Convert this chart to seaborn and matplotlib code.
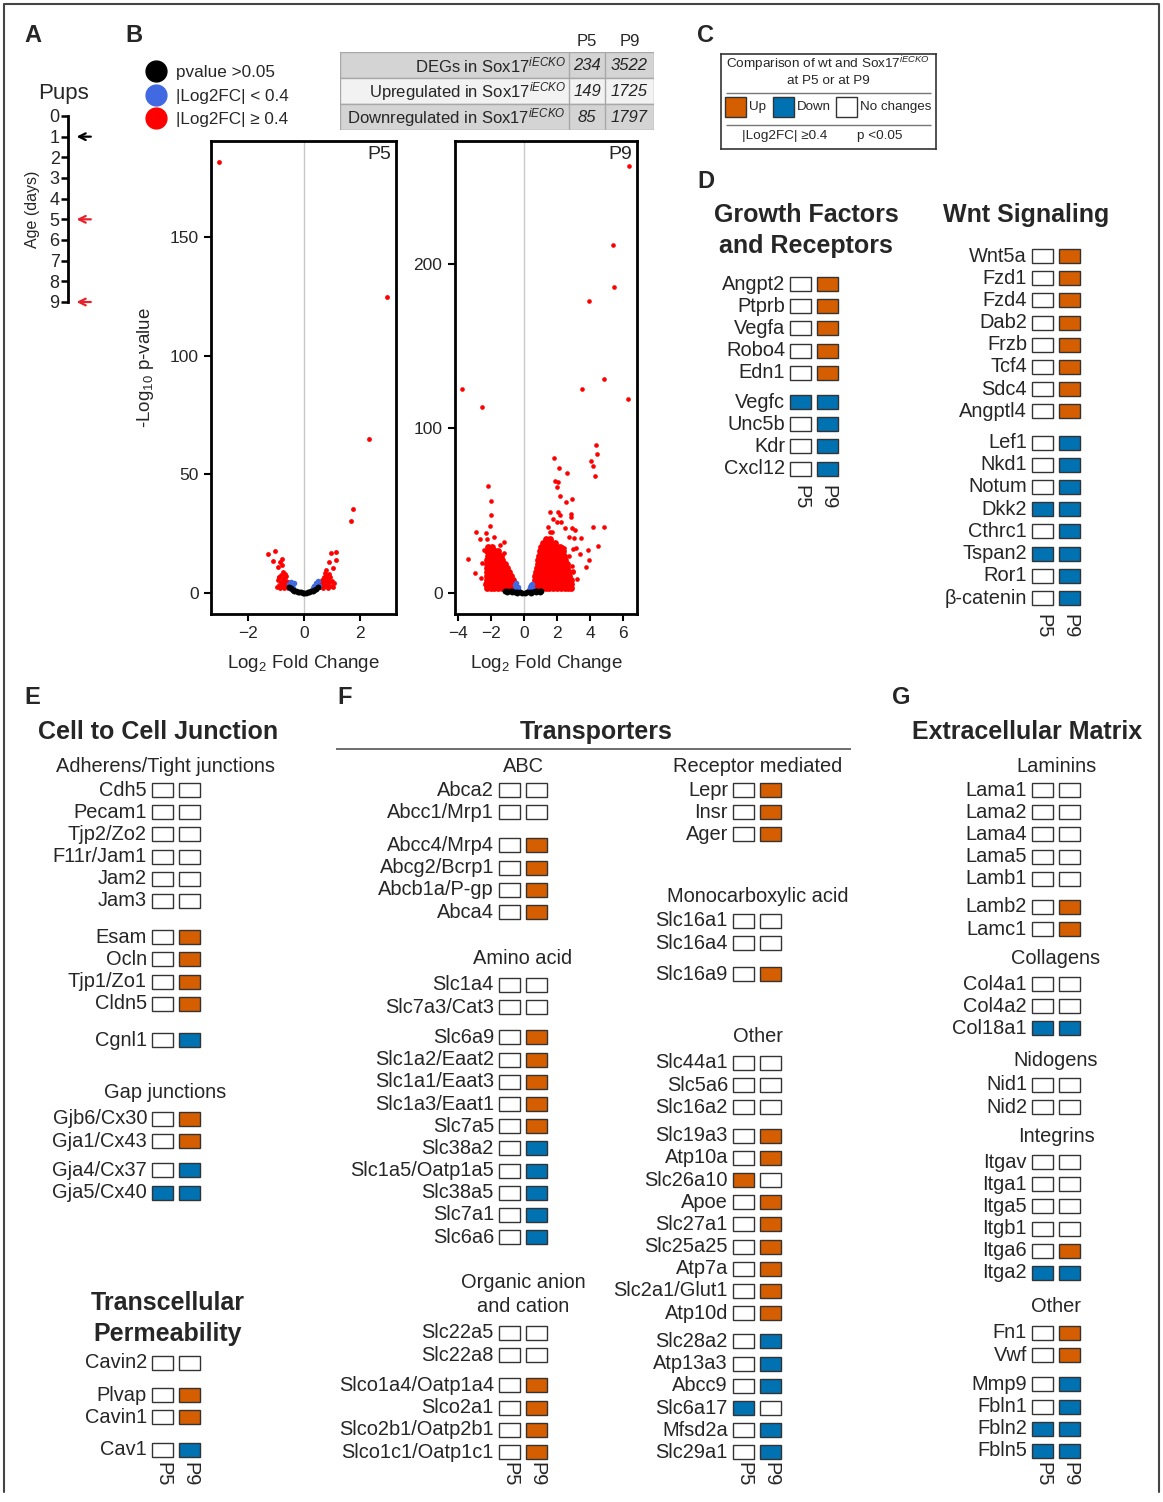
import numpy as np
import pandas as pd
import matplotlib
matplotlib.use("Agg")
import matplotlib.pyplot as plt
import seaborn as sns
from matplotlib.lines import Line2D

sns.set_theme(style="ticks")
plt.rcParams["font.family"] = ["Liberation Sans", "DejaVu Sans"]
plt.rcParams["mathtext.fontset"] = "custom"
plt.rcParams["mathtext.rm"] = "Liberation Sans"
plt.rcParams["mathtext.it"] = "Liberation Sans:italic"
plt.rcParams["mathtext.bf"] = "Liberation Sans:bold"

# ---------------- data ----------------
# panel A
pups_days = list(range(10))
arrow_days = [1, 5, 9]
arrow_colors = ["black", "#e8202a", "#e8202a"]

# panel B table
deg_rows = ["DEGs in Sox17$^{iECKO}$", "Upregulated in Sox17$^{iECKO}$",
            "Downregulated in Sox17$^{iECKO}$"]
deg_p5 = [234, 149, 85]
deg_p9 = [3522, 1725, 1797]

# volcano P5 (log2FC, -log10 p)
p5_red = [(-3.02, 181.5), (2.99, 124.5), (2.33, 64.7), (1.76, 35.2), (1.70, 30.2),
          (-1.27, 16.1), (-1.04, 17.4), (-1.11, 13.2), (-0.86, 12.9), (-0.78, 14.2),
          (-0.92, 10.7), (-0.78, 11.8), (-0.89, 6.5), (-0.67, 7.9),
          (0.99, 16.7), (1.16, 17.2), (1.14, 13.9), (0.92, 12.9), (1.05, 10.2),
          (0.80, 9.5), (0.72, 6.7),
          (-0.93, 5.2), (-0.90, 3.1), (-0.88, 6.8), (-0.85, 2.0), (-0.83, 4.4),
          (-0.80, 7.5), (-0.78, 3.0), (-0.75, 5.6), (-0.72, 1.8), (-0.70, 4.0),
          (-0.68, 6.4), (-0.66, 2.6), (-0.63, 5.0), (-0.61, 3.4), (-0.58, 1.9),
          (-0.56, 4.3), (-0.96, 2.5), (-0.74, 8.6), (-0.64, 7.2),
          (0.58, 2.2), (0.60, 4.1), (0.63, 3.0), (0.66, 5.4), (0.68, 1.8),
          (0.70, 3.9), (0.73, 6.3), (0.75, 2.6), (0.78, 4.8), (0.80, 7.2),
          (0.83, 3.3), (0.86, 5.7), (0.88, 2.1), (0.91, 4.5), (0.94, 6.6),
          (0.97, 3.0), (1.00, 5.1), (1.04, 2.4), (1.08, 4.0), (0.76, 8.4), (0.90, 8.0)]
p5_blue = [(-0.52, 3.6), (-0.49, 2.4), (-0.46, 4.6), (-0.44, 1.6), (-0.41, 3.0),
           (-0.38, 2.0), (-0.36, 4.0), (0.33, 1.8), (0.36, 3.0), (0.40, 2.2),
           (0.43, 4.2), (0.46, 3.2), (0.50, 5.0), (0.53, 2.6)]
p5_black = [(-0.52, 2.4), (-0.46, 1.8), (-0.40, 1.3), (-0.34, 0.9), (-0.28, 0.6),
            (-0.22, 0.35), (-0.16, 0.2), (-0.10, 0.08), (-0.04, 0.02), (0.02, 0.0),
            (0.08, 0.05), (0.14, 0.15), (0.20, 0.3), (0.26, 0.5), (0.32, 0.8),
            (0.38, 1.2), (0.44, 1.7), (0.50, 2.3)]

# volcano P9
p9_red_sparse = [(-3.73, 123.7), (-2.54, 113.0), (-2.16, 65.0), (-2.00, 55.5), (-2.02, 47.3),
                 (-2.06, 40.6), (-2.93, 36.8), (-3.37, 20.7), (-2.97, 11.7), (-2.67, 32.7),
                 (-2.32, 36.2), (-2.22, 32.5), (-1.84, 34.0), (-1.19, 30.9), (-2.56, 18.2),
                 (-1.20, 24.0), (-2.45, 26.0), (-2.60, 9.0), (-1.45, 29.0),
                 (6.35, 259.6), (5.40, 211.0), (5.47, 185.7), (3.95, 177.0), (4.87, 129.7),
                 (3.49, 123.7), (6.33, 117.7), (4.36, 89.6), (4.42, 84.0), (4.08, 80.0),
                 (4.18, 77.0), (4.28, 70.6), (1.84, 82.0), (2.14, 75.6), (2.63, 73.0),
                 (1.90, 67.7), (2.08, 67.0), (2.00, 64.0), (2.16, 59.0), (2.53, 55.3),
                 (2.93, 57.0), (1.60, 49.0), (2.05, 49.0), (2.20, 47.0), (2.83, 48.0),
                 (2.83, 46.0), (1.47, 40.0), (1.73, 44.6), (2.00, 43.0), (2.25, 43.0),
                 (2.46, 39.0), (1.58, 37.0), (1.70, 37.0), (2.90, 39.0), (3.10, 38.0),
                 (2.70, 34.0), (3.05, 33.0), (3.47, 33.0), (3.16, 27.0), (3.40, 23.6),
                 (2.95, 26.5), (2.30, 28.0), (2.40, 27.0), (3.76, 15.7), (3.93, 20.0),
                 (3.90, 26.0), (4.20, 40.0), (4.85, 40.0), (4.50, 28.5), (2.95, 13.0),
                 (3.00, 12.5), (2.90, 16.0), (3.20, 8.0), (2.75, 22.0)]
# dense lobes, read row by row: (-log10 p, [log2FC ...])
p9_left_rows = [(2.5, [-2.25, -2.02, -1.80, -1.57, -1.35, -1.12, -0.90, -0.68]),
                (5.0, [-2.28, -2.05, -1.82, -1.60, -1.37, -1.15, -0.92, -0.70, -0.55]),
                (7.5, [-2.24, -2.01, -1.78, -1.55, -1.33, -1.10, -0.87, -0.68]),
                (10.0, [-2.27, -2.04, -1.81, -1.58, -1.36, -1.13, -0.90, -0.76]),
                (12.5, [-2.23, -2.00, -1.77, -1.54, -1.32, -1.09, -0.90]),
                (15.0, [-2.26, -2.03, -1.80, -1.57, -1.34, -1.12, -1.00]),
                (17.5, [-2.22, -1.99, -1.76, -1.53, -1.30, -1.12]),
                (20.0, [-2.25, -2.02, -1.79, -1.56, -1.33]),
                (22.5, [-2.21, -1.98, -1.75, -1.52, -1.38]),
                (25.0, [-2.24, -2.01, -1.78, -1.60]),
                (27.5, [-2.18, -1.95])]
p9_right_rows = [(2.5, [0.62, 0.85, 1.08, 1.31, 1.54, 1.77, 2.00, 2.23, 2.46, 2.69, 2.88]),
                 (5.0, [0.60, 0.83, 1.06, 1.29, 1.52, 1.75, 1.98, 2.21, 2.44, 2.67, 2.88]),
                 (7.5, [0.64, 0.87, 1.10, 1.33, 1.56, 1.79, 2.02, 2.25, 2.48, 2.71, 2.85]),
                 (10.0, [0.66, 0.89, 1.12, 1.35, 1.58, 1.81, 2.04, 2.27, 2.50, 2.73]),
                 (12.5, [0.72, 0.95, 1.18, 1.41, 1.64, 1.87, 2.10, 2.33, 2.56, 2.75]),
                 (15.0, [0.76, 0.99, 1.22, 1.45, 1.68, 1.91, 2.14, 2.37, 2.60]),
                 (17.5, [0.83, 1.06, 1.29, 1.52, 1.75, 1.98, 2.21, 2.44, 2.62]),
                 (20.0, [0.88, 1.11, 1.34, 1.57, 1.80, 2.03, 2.26, 2.49]),
                 (22.5, [0.93, 1.16, 1.39, 1.62, 1.85, 2.08, 2.31, 2.45]),
                 (25.0, [0.98, 1.21, 1.44, 1.67, 1.90, 2.13, 2.34]),
                 (27.5, [1.06, 1.29, 1.52, 1.75, 1.98, 2.20]),
                 (30.0, [1.17, 1.40, 1.63, 1.86]),
                 (32.5, [1.35, 1.58])]
p9_blue = [(-0.55, 4.5), (-0.50, 2.8), (-0.46, 5.6), (-0.42, 1.8), (-0.38, 3.6),
           (-0.34, 2.2), (0.30, 1.8), (0.34, 3.2), (0.38, 2.2), (0.42, 4.4),
           (0.46, 3.0), (0.50, 5.4), (0.54, 2.4)]
p9_black = [(-1.15, 1.2), (-1.00, 1.0), (-0.85, 0.9), (-0.70, 0.7), (-0.55, 0.5),
            (-0.40, 0.35), (-0.25, 0.2), (-0.10, 0.05), (0.05, 0.0), (0.20, 0.1),
            (0.35, 0.3), (0.50, 0.5), (0.65, 0.7), (0.80, 0.9), (0.95, 1.0), (1.05, 1.2),
            (-1.05, 0.2), (-0.75, 0.1), (-0.45, 0.0), (0.45, 0.0), (0.75, 0.1), (0.98, 0.2)]

# legend C
key_labels = ["Up", "Down", "No changes"]
key_states = ["U", "D", "N"]

# panel D
gf_genes = ["Angpt2", "Ptprb", "Vegfa", "Robo4", "Edn1", "Vegfc", "Unc5b", "Kdr", "Cxcl12"]
gf_p5 = "NNNNNDNNN"
gf_p9 = "UUUUUDDDD"
wnt_genes = ["Wnt5a", "Fzd1", "Fzd4", "Dab2", "Frzb", "Tcf4", "Sdc4", "Angptl4",
             "Lef1", "Nkd1", "Notum", "Dkk2", "Cthrc1", "Tspan2", "Ror1", "β-catenin"]
wnt_p5 = "NNNNNNNNNNNDNDNN"
wnt_p9 = "UUUUUUUUDDDDDDDD"

# panel E
adh_genes = ["Cdh5", "Pecam1", "Tjp2/Zo2", "F11r/Jam1", "Jam2", "Jam3",
             "Esam", "Ocln", "Tjp1/Zo1", "Cldn5", "Cgnl1"]
adh_p5 = "NNNNNNNNNNN"
adh_p9 = "NNNNNNUUUUD"
gapj_genes = ["Gjb6/Cx30", "Gja1/Cx43", "Gja4/Cx37", "Gja5/Cx40"]
gapj_p5 = "NNND"
gapj_p9 = "UUDD"
trans_genes = ["Cavin2", "Plvap", "Cavin1", "Cav1"]
trans_p5 = "NNNN"
trans_p9 = "NUUD"

# panel F
abc_genes = ["Abca2", "Abcc1/Mrp1", "Abcc4/Mrp4", "Abcg2/Bcrp1", "Abcb1a/P-gp", "Abca4"]
abc_p5 = "NNNNNN"
abc_p9 = "NNUUUU"
aa_genes = ["Slc1a4", "Slc7a3/Cat3", "Slc6a9", "Slc1a2/Eaat2", "Slc1a1/Eaat3", "Slc1a3/Eaat1",
            "Slc7a5", "Slc38a2", "Slc1a5/Oatp1a5", "Slc38a5", "Slc7a1", "Slc6a6"]
aa_p5 = "NNNNNNNNNNNN"
aa_p9 = "NNUUUUUDDDDD"
oac_genes = ["Slc22a5", "Slc22a8", "Slco1a4/Oatp1a4", "Slco2a1", "Slco2b1/Oatp2b1",
             "Slco1c1/Oatp1c1"]
oac_p5 = "NNNNNN"
oac_p9 = "NNUUUU"
rm_genes = ["Lepr", "Insr", "Ager"]
rm_p5 = "NNN"
rm_p9 = "UUU"
mca_genes = ["Slc16a1", "Slc16a4", "Slc16a9"]
mca_p5 = "NNN"
mca_p9 = "NNU"
tro_genes = ["Slc44a1", "Slc5a6", "Slc16a2", "Slc19a3", "Atp10a", "Slc26a10", "Apoe",
             "Slc27a1", "Slc25a25", "Atp7a", "Slc2a1/Glut1", "Atp10d", "Slc28a2",
             "Atp13a3", "Abcc9", "Slc6a17", "Mfsd2a", "Slc29a1"]
tro_p5 = "NNNNNUNNNNNNNNNDNN"
tro_p9 = "NNNUUNUUUUUUDDDNDD"

# panel G
lam_genes = ["Lama1", "Lama2", "Lama4", "Lama5", "Lamb1", "Lamb2", "Lamc1"]
lam_p5 = "NNNNNNN"
lam_p9 = "NNNNNUU"
col_genes = ["Col4a1", "Col4a2", "Col18a1"]
col_p5 = "NND"
col_p9 = "NND"
nid_genes = ["Nid1", "Nid2"]
nid_p5 = "NN"
nid_p9 = "NN"
itg_genes = ["Itgav", "Itga1", "Itga5", "Itgb1", "Itga6", "Itga2"]
itg_p5 = "NNNNND"
itg_p9 = "NNNNUD"
ecm_genes = ["Fn1", "Vwf", "Mmp9", "Fbln1", "Fbln2", "Fbln5"]
ecm_p5 = "NNNNDD"
ecm_p9 = "UUDDDD"

# ---------------- style ----------------
ORANGE = "#d55e00"
BLUE = "#0072b2"
EDGE = "#333333"
STATE = {"U": ORANGE, "D": BLUE, "N": "white"}
GF = 14.4    # gene label size
TF = 18      # section title size
LF = 17      # panel letter size

W, H = 1163, 1502
fig = plt.figure(figsize=(W / 100, H / 100), dpi=100)


def px_rect(l, t, r, b):
    return [l / W, 1 - b / H, (r - l) / W, (b - t) / H]


# overlay axes in pixel units for text and the gene boxes
ov = fig.add_axes([0, 0, 1, 1])
ov.set_xlim(0, W)
ov.set_ylim(H, 0)
ov.axis("off")
ov.plot([4, 4, 1159, 1159], [1492, 4, 4, 1492], color="#444444", lw=1.5)

PITCH, BW, BH = 22.2, 21, 14


def gene_block(genes, p5, p9, y0, xb, breaks=(), gap=9):
    ys = [y0 + i * PITCH + gap * sum(i >= k for k in breaks) for i in range(len(genes))]
    for cx, states in ((xb, p5), (xb + 27, p9)):
        ov.bar([cx + BW / 2] * len(genes), [BH] * len(genes),
               bottom=[y - BH / 2 for y in ys], width=BW,
               color=[STATE[s] for s in states], edgecolor=EDGE, linewidth=1)
    for g, y in zip(genes, ys):
        ov.text(xb - 5, y, g, ha="right", va="center", fontsize=GF)


def pp_labels(xb, y):
    for cx, lab in ((xb, "P5"), (xb + 27, "P9")):
        ov.text(cx + BW / 2, y, lab, rotation=-90, ha="center", va="center", fontsize=GF)


def head(x, y, txt, bold=False):
    ov.text(x, y, txt, ha="center", va="center",
            fontsize=TF if bold else GF, fontweight="bold" if bold else "normal")


# panel letters
for lx, ly, lt in [(33, 35, "A"), (134, 35, "B"), (705, 35, "C"), (706, 181, "D"),
                   (32, 697, "E"), (345, 697, "F"), (901, 697, "G")]:
    ov.text(lx, ly, lt, ha="center", va="center", fontsize=LF, fontweight="bold")

# ---------------- panel A ----------------
ov.text(64, 93, "Pups", ha="center", va="center", fontsize=16)
ov.text(33, 209, "Age (days)", ha="center", va="center", rotation=90, fontsize=11.5)
axa = fig.add_axes(px_rect(68, 116, 100, 302))
axa.set_xlim(0, 1)
axa.set_ylim(9, 0)
axa.set_yticks(pups_days)
axa.set_xticks([])
for s in ["top", "right", "bottom"]:
    axa.spines[s].set_visible(False)
axa.spines["left"].set_linewidth(2)
axa.spines["left"].set_color("black")
axa.tick_params(axis="y", length=5, width=1.8, labelsize=13, pad=1, color="black")
axa.patch.set_alpha(0)
for d, c in zip(arrow_days, arrow_colors):
    axa.annotate("", xy=(0.18, d), xytext=(0.8, d),
                 arrowprops=dict(arrowstyle="->", color=c, lw=1.6))

# ---------------- panel B ----------------
def volcano(ax, layers, xlim, ylim, xticks, yticks, tag):
    for pts, col, s in layers:
        d = pd.DataFrame(pts, columns=["lfc", "nlp"])
        sns.scatterplot(data=d, x="lfc", y="nlp", color=col, s=s, linewidth=0, ax=ax, zorder=3)
    ax.axvline(0, color="#c8c8c8", lw=1, zorder=1)
    ax.set_xlim(*xlim)
    ax.set_ylim(*ylim)
    ax.set_xticks(xticks)
    ax.set_yticks(yticks)
    for sp in ax.spines.values():
        sp.set_linewidth(2)
        sp.set_color("black")
    ax.tick_params(length=5, width=1.5, labelsize=12.5, color="black", pad=4)
    ax.set_xlabel("Log$_2$ Fold Change", fontsize=13.5, labelpad=8)
    ax.set_ylabel("")
    ax.text(0.975, 0.99, tag, transform=ax.transAxes, ha="right", va="top", fontsize=14)


ax5 = fig.add_axes(px_rect(211, 141, 396, 614))
volcano(ax5, [(p5_red, "#ff0000", 12), (p5_blue, "#4169e1", 16), (p5_black, "black", 18)],
        (-3.32, 3.30), (-9, 190.5), [-2, 0, 2], [0, 50, 100, 150], "P5")
ax5.set_ylabel("-Log$_{10}$ p-value", fontsize=13.5)
ax5.yaxis.set_label_coords(-0.30, 0.52)

p9_dense = [(x, y) for y, xs in p9_left_rows for x in xs] \
    + [(x, y) for y, xs in p9_right_rows for x in xs]
ax9 = fig.add_axes(px_rect(455, 141, 637, 614))
volcano(ax9, [(p9_dense, "#ff0000", 24), (p9_red_sparse, "#ff0000", 11),
              (p9_blue, "#4169e1", 16), (p9_black, "black", 18)],
        (-4.18, 6.85), (-13, 274.5), [-4, -2, 0, 2, 4, 6], [0, 100, 200], "P9")

handles = [Line2D([], [], marker="o", ls="", color=c, markersize=15)
           for c in ["black", "#4169e1", "#ff0000"]]
fig.legend(handles, ["pvalue >0.05", "|Log2FC| < 0.4", "|Log2FC| ≥ 0.4"],
           loc="center left", bbox_to_anchor=(147 / W, 1 - 96 / H), frameon=False,
           fontsize=12.3, handletextpad=0.7, labelspacing=0.48, handlelength=1.0,
           borderpad=0, borderaxespad=0)

# table
axt = fig.add_axes(px_rect(340, 52, 654, 130))
axt.set_xlim(0, 314)
axt.set_ylim(3, 0)
axt.axis("off")
axt.barh([0.5, 1.5, 2.5], [314] * 3, height=1, left=0,
         color=["#d4d4d4", "#f2f2f2", "#d4d4d4"], edgecolor="#a8a8a8", linewidth=1)
axt.vlines([229, 265], 0, 3, color="#a8a8a8", lw=1)
for i, (lab, a, b) in enumerate(zip(deg_rows, deg_p5, deg_p9)):
    axt.text(226, i + 0.52, lab, ha="right", va="center", fontsize=12)
    axt.text(247, i + 0.52, str(a), ha="center", va="center", fontsize=12, style="italic")
    axt.text(289.5, i + 0.52, str(b), ha="center", va="center", fontsize=12, style="italic")
axt.text(247, -0.42, "P5", ha="center", va="center", fontsize=12, clip_on=False)
axt.text(289.5, -0.42, "P9", ha="center", va="center", fontsize=12, clip_on=False)

# ---------------- panel C ----------------
axc = fig.add_axes(px_rect(721, 54, 936, 149))
axc.set_xlim(0, 215)
axc.set_ylim(95, 0)
axc.set_xticks([])
axc.set_yticks([])
for sp in axc.spines.values():
    sp.set_color("#333333")
    sp.set_linewidth(1.2)
axc.text(107.5, 10, "Comparison of wt and Sox17$^{iECKO}$", ha="center", va="center", fontsize=9.7)
axc.text(107.5, 27, "at P5 or at P9", ha="center", va="center", fontsize=9.7)
axc.hlines([39, 71], 5, 210, color="#777777", lw=1)
key_x = [4, 52, 115]
axc.bar([x + 10.5 for x in key_x], [20] * 3, bottom=43, width=21,
        color=[STATE[s] for s in key_states], edgecolor=EDGE, linewidth=1)
for x, lab in zip(key_x, key_labels):
    axc.text(x + 24, 53, lab, ha="left", va="center", fontsize=9.6)
axc.text(64, 82, "|Log2FC| ≥0.4", ha="center", va="center", fontsize=9.7)
axc.text(159, 82, "p <0.05", ha="center", va="center", fontsize=9.7)

# ---------------- panel D ----------------
head(806, 215, "Growth Factors", True)
head(806, 246, "and Receptors", True)
gene_block(gf_genes, gf_p5, gf_p9, 284, 790, breaks=[5], gap=7)
pp_labels(790, 497)
head(1026, 215, "Wnt Signaling", True)
gene_block(wnt_genes, wnt_p5, wnt_p9, 256, 1032, breaks=[8], gap=9)
pp_labels(1032, 626)

# ---------------- panel E ----------------
head(158, 732, "Cell to Cell Junction", True)
head(165, 767, "Adherens/Tight junctions")
gene_block(adh_genes, adh_p5, adh_p9, 790, 152, breaks=[6, 10], gap=14)
head(165, 1092, "Gap junctions")
gene_block(gapj_genes, gapj_p5, gapj_p9, 1119, 152, breaks=[2], gap=7)
head(168, 1303, "Transcellular", True)
head(168, 1334, "Permeability", True)
gene_block(trans_genes, trans_p5, trans_p9, 1363, 152, breaks=[1, 3], gap=10)
pp_labels(152, 1474)

# ---------------- panel F ----------------
head(596, 732, "Transporters", True)
ov.hlines(749, 336, 851, color="#555555", lw=1.2)
head(523, 767, "ABC")
gene_block(abc_genes, abc_p5, abc_p9, 790, 499, breaks=[2], gap=11)
head(523, 959, "Amino acid")
gene_block(aa_genes, aa_p5, aa_p9, 985, 499, breaks=[2], gap=8)
head(523, 1282, "Organic anion")
head(523, 1307, "and cation")
gene_block(oac_genes, oac_p5, oac_p9, 1333, 499, breaks=[2], gap=8)
pp_labels(499, 1474)
head(758, 767, "Receptor mediated")
gene_block(rm_genes, rm_p5, rm_p9, 790, 733)
head(758, 896, "Monocarboxylic acid")
gene_block(mca_genes, mca_p5, mca_p9, 921, 733, breaks=[2], gap=9)
head(758, 1037, "Other")
gene_block(tro_genes, tro_p5, tro_p9, 1063, 733, breaks=[3, 12], gap=6)
pp_labels(733, 1474)

# ---------------- panel G ----------------
head(1027, 732, "Extracellular Matrix", True)
head(1056, 767, "Laminins")
gene_block(lam_genes, lam_p5, lam_p9, 790, 1032, breaks=[5], gap=6)
head(1056, 959, "Collagens")
gene_block(col_genes, col_p5, col_p9, 984, 1032)
head(1056, 1060, "Nidogens")
gene_block(nid_genes, nid_p5, nid_p9, 1085, 1032)
head(1056, 1137, "Integrins")
gene_block(itg_genes, itg_p5, itg_p9, 1162, 1032)
head(1056, 1307, "Other")
gene_block(ecm_genes, ecm_p5, ecm_p9, 1333, 1032, breaks=[2], gap=7)
pp_labels(1032, 1474)

fig.savefig("out.png", dpi=100)
